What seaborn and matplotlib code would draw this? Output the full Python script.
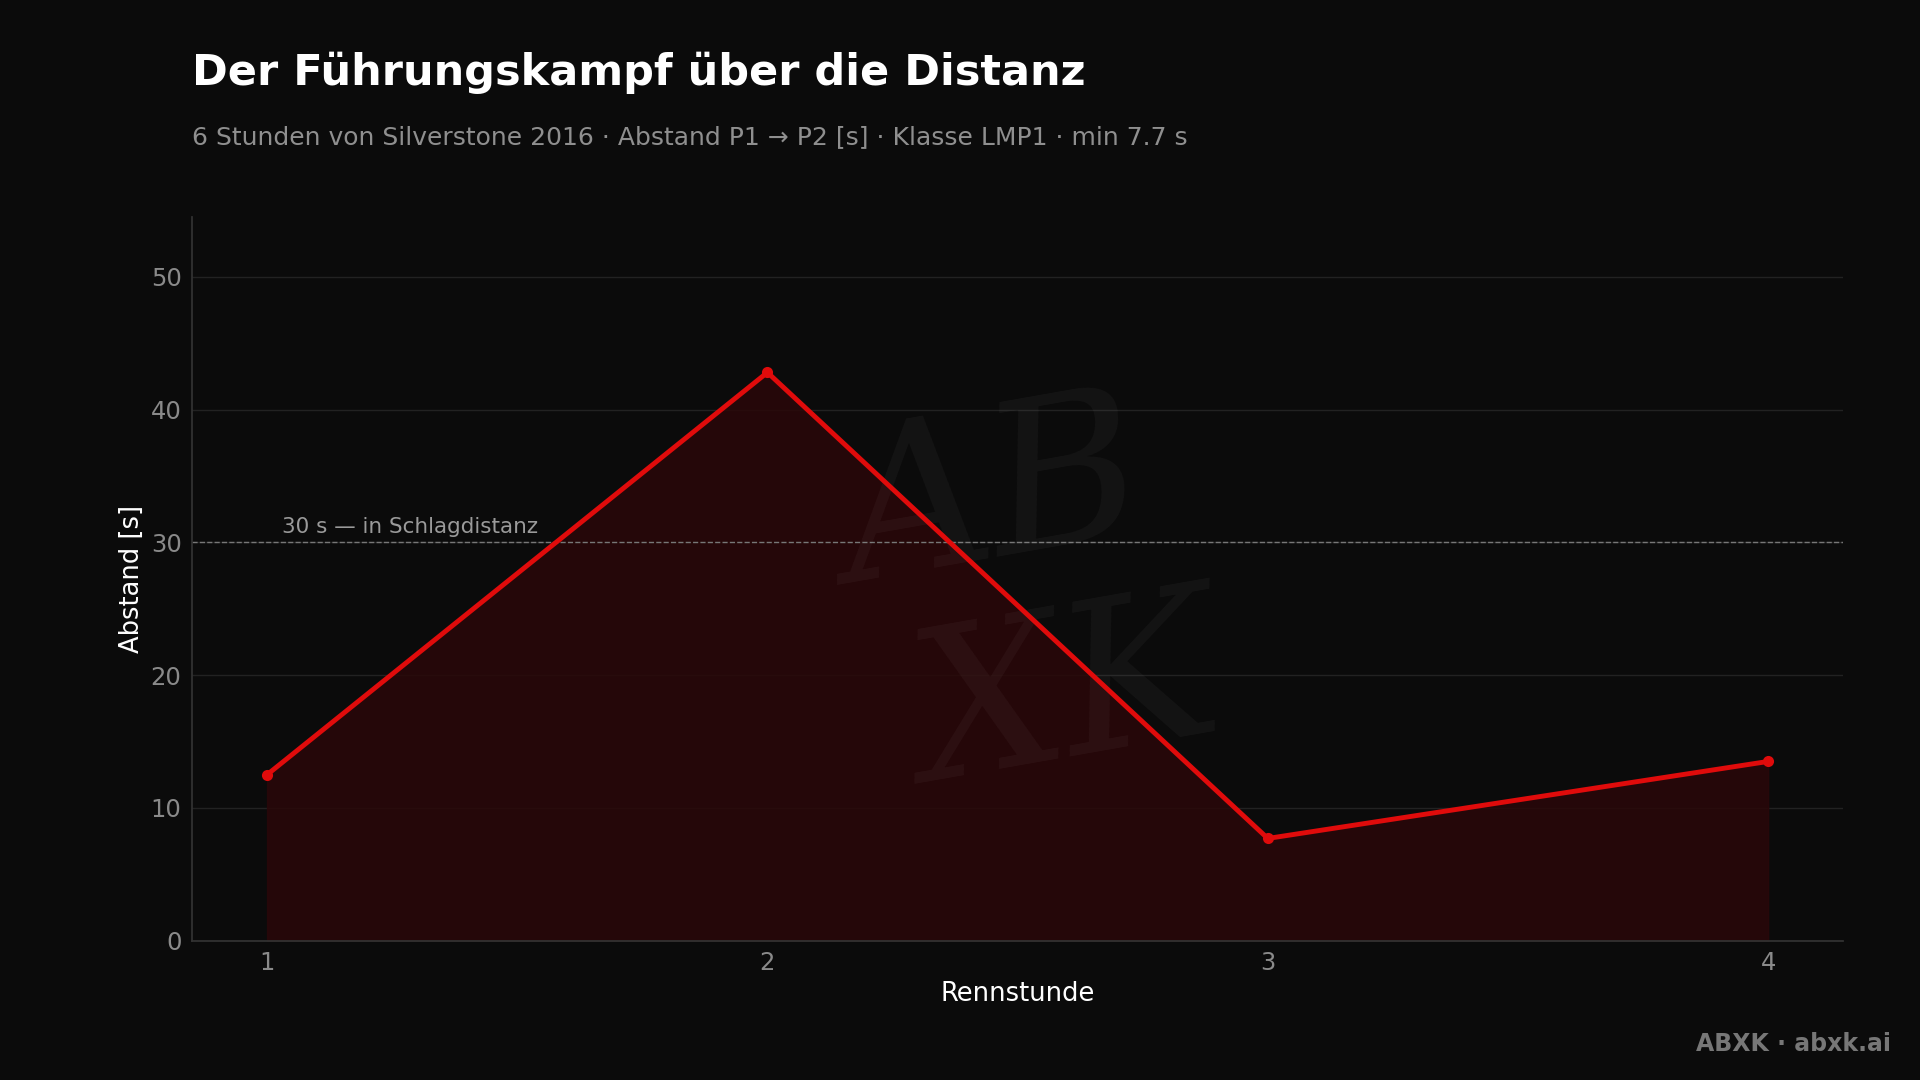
import matplotlib
matplotlib.use("Agg")
import matplotlib.pyplot as plt
import seaborn as sns
import pandas as pd

hours = [1, 2, 3, 4]
gap = [12.5, 42.8, 7.7, 13.5]
df = pd.DataFrame({"Rennstunde": hours, "Abstand": gap})

sns.set_theme(style="dark")
plt.rcParams['font.family'] = ['DejaVu Sans']
bg = "#0b0b0b"
fig = plt.figure(figsize=(19.2, 10.8), dpi=100, facecolor=bg)
ax = fig.add_axes([0.100, 0.129, 0.860, 0.670], facecolor=bg)

ax.fill_between(df["Rennstunde"], df["Abstand"], color="#2a0709", alpha=0.85, zorder=1)
sns.lineplot(data=df, x="Rennstunde", y="Abstand", ax=ax, color="#e00b0b", lw=3.5,
             marker="o", markersize=8, markeredgewidth=0, zorder=3)
ax.axhline(30, color="#777777", lw=1, ls="--", zorder=2)
ax.text(1.03, 30.4, "30 s — in Schlagdistanz", color="#9a9a9a", fontsize=15.5, va="bottom")

ax.text(2.45, 33, "AB", color="#ffffff", alpha=0.04, fontsize=150, style="italic",
        ha="center", va="center", rotation=10, family="DejaVu Serif", zorder=2)
ax.text(2.6, 18, "XK", color="#ffffff", alpha=0.04, fontsize=150, style="italic",
        ha="center", va="center", rotation=10, family="DejaVu Serif", zorder=2)

ax.set_xlim(0.85, 4.15)
ax.set_ylim(0, 54.5)
ax.set_xticks(hours)
ax.set_yticks([0, 10, 20, 30, 40, 50])
ax.grid(axis="y", color="#222222", lw=1)
ax.grid(axis="x", visible=False)
ax.tick_params(colors="#8a8a8a", labelsize=17.5, length=4)
ax.tick_params(axis="x", color="#555555")
for s in ["top", "right"]:
    ax.spines[s].set_visible(False)
for s in ["left", "bottom"]:
    ax.spines[s].set_color("#333333")
ax.set_xlabel("Rennstunde", color="#ffffff", fontsize=18.5)
ax.set_ylabel("Abstand [s]", color="#ffffff", fontsize=18.5)

fig.text(0.100, 0.933, "Der Führungskampf über die Distanz", color="#ffffff",
         fontsize=31, fontweight="bold", va="center")
fig.text(0.100, 0.873, "6 Stunden von Silverstone 2016 · Abstand P1 → P2 [s] · Klasse LMP1 · min 7.7 s",
         color="#8f8f8f", fontsize=18, va="center")
fig.text(0.985, 0.033, "ABXK · abxk.ai", color="#777777", fontsize=17,
         fontweight="bold", ha="right", va="center")

fig.savefig("out.png", dpi=100, facecolor=bg)
